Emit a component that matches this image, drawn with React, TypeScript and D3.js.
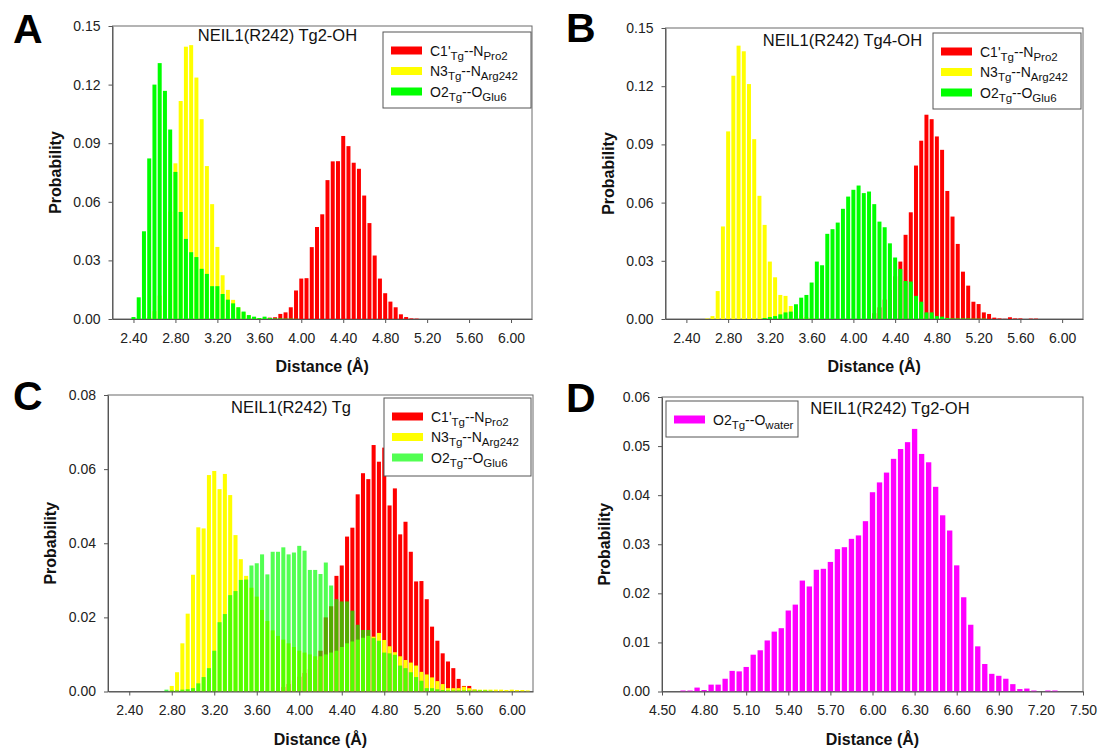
import React, { useRef, useEffect } from 'react';
import * as d3 from 'd3';

const FONT = "'Liberation Sans', Arial, Helvetica, sans-serif";
const BIN = 0.05;

// ---- panel A : NEIL1(R242) Tg2-OH  (probability per 0.05 A bin) ----
const aRedStart = 3.7;
const aRed = [0.0007, 0.0009, 0.0026, 0.0034, 0.006, 0.0146, 0.0207, 0.0209, 0.0368, 0.0471, 0.0536, 0.0711, 0.0807, 0.0808, 0.0937, 0.0885, 0.08, 0.0769, 0.0632, 0.0491, 0.0325, 0.0207, 0.0132, 0.0089, 0.006, 0.0024, 0.001, 0.0003, 0.0002];
const aYellowStart = 2.55;
const aYellow = [0.001, 0.004, 0.012, 0.03, 0.055, 0.0797, 0.1116, 0.1394, 0.1402, 0.1236, 0.1023, 0.0783, 0.0588, 0.0369, 0.0224, 0.0149, 0.0098, 0.006, 0.0035, 0.0018, 0.001, 0.0005];
const aGreenStart = 2.4;
const aGreen = [0.001, 0.0111, 0.0449, 0.0822, 0.12, 0.131, 0.1168, 0.097, 0.0753, 0.0548, 0.041, 0.0342, 0.0317, 0.0257, 0.0231, 0.0168, 0.0168, 0.0128, 0.0099, 0.008, 0.006, 0.0038, 0.002, 0.0012, 0.0005, 0.0012, 0.0005, 0.0003, 0.0003, 0.0002, 0.0002, 0.0001];

// ---- panel B : NEIL1(R242) Tg4-OH ----
const bRedStart = 4.2;
const bRed = [0.003, 0.006, 0.01, 0.015, 0.022, 0.0296, 0.0434, 0.055, 0.0791, 0.0919, 0.1053, 0.103, 0.0941, 0.0872, 0.066, 0.0528, 0.0387, 0.0244, 0.0172, 0.0089, 0.0077, 0.0034, 0.0026, 0.0007, 0.0003, 0.0001, 0.0009, 0.0003, 0.0003, 0, 0.0002, 0.0002];
const bYellowStart = 2.6;
const bYellow = [0.0003, 0.0015, 0.0144, 0.0477, 0.0967, 0.1254, 0.1409, 0.138, 0.1211, 0.0927, 0.0635, 0.0485, 0.0296, 0.0215, 0.0124, 0.0119, 0.0067, 0.004, 0.002, 0.001, 0.0005];
const bGreenStart = 3.15;
const bGreen = [0.0005, 0.001, 0.0015, 0.0024, 0.0034, 0.0038, 0.0076, 0.011, 0.0124, 0.0188, 0.0296, 0.0277, 0.0439, 0.0463, 0.0497, 0.0568, 0.0631, 0.0666, 0.0688, 0.0649, 0.0657, 0.0592, 0.0502, 0.0473, 0.039, 0.0317, 0.0258, 0.0196, 0.0193, 0.0119, 0.0089, 0.0034, 0.0034, 0.0015, 0.0012, 0.0005, 0.0003, 0.0003, 0.0003, 0.0003, 0.0002, 0.0002, 0.0002];

// ---- panel C : NEIL1(R242) Tg ----
const cRedStart = 3.8;
const cRed = [0.001, 0.0012, 0.002, 0.003, 0.004, 0.005, 0.006, 0.0085, 0.011, 0.02, 0.023, 0.0312, 0.034, 0.0418, 0.0442, 0.0532, 0.0589, 0.0573, 0.0665, 0.062, 0.0658, 0.0502, 0.0548, 0.0424, 0.0458, 0.0377, 0.0297, 0.0298, 0.0249, 0.0175, 0.0137, 0.0103, 0.0081, 0.0063, 0.0034, 0.0015, 0.0015, 0.0005, 0.0003, 0.0002];
const cYellowStart = 2.8;
const cYellow = [0.0015, 0.0052, 0.013, 0.021, 0.0315, 0.0443, 0.044, 0.0584, 0.0595, 0.0546, 0.0587, 0.053, 0.0422, 0.0357, 0.0312, 0.028, 0.0256, 0.022, 0.019, 0.0165, 0.015, 0.014, 0.013, 0.012, 0.011, 0.0105, 0.01, 0.0095, 0.0095, 0.01, 0.0105, 0.011, 0.012, 0.013, 0.0135, 0.014, 0.0145, 0.015, 0.0148, 0.0158, 0.0139, 0.0122, 0.0106, 0.0095, 0.0085, 0.0078, 0.007, 0.0053, 0.0046, 0.0038, 0.0028, 0.002, 0.0009, 0.0009, 0.0009, 0.0013, 0.0009, 0.0006, 0.0005, 0.0005, 0.0005, 0.0005, 0.0005, 0.0004, 0.0005, 0.0004, 0.0004, 0.0003];
const cGreenStart = 2.75;
const cGreen = [0.0005, 0.0003, 0.0003, 0.0005, 0.0006, 0.0009, 0.0022, 0.0039, 0.0063, 0.011, 0.0187, 0.0209, 0.026, 0.0271, 0.0301, 0.0302, 0.034, 0.0346, 0.037, 0.0316, 0.0377, 0.0377, 0.0389, 0.037, 0.0375, 0.0393, 0.038, 0.0328, 0.0328, 0.0317, 0.0348, 0.0286, 0.0249, 0.0243, 0.0243, 0.0218, 0.018, 0.0166, 0.0166, 0.0144, 0.0137, 0.0105, 0.0103, 0.0099, 0.007, 0.0063, 0.0052, 0.0039, 0.0029, 0.0009, 0.0009, 0.0006, 0.0004, 0.0003, 0.0003, 0.0003, 0.0003, 0.0003, 0.0003, 0.0003, 0.0003, 0.0002];

// ---- panel D : NEIL1(R242) Tg2-OH, O2--water ----
const dMagentaStart = 4.65;
const dMagenta = [0.0002, 0.0002, 0.0008, 0.0003, 0.0014, 0.0014, 0.0026, 0.0042, 0.0041, 0.005, 0.0075, 0.0084, 0.0104, 0.0122, 0.0129, 0.0165, 0.0177, 0.0226, 0.0214, 0.0248, 0.025, 0.0264, 0.029, 0.0294, 0.0311, 0.0318, 0.0347, 0.0406, 0.0426, 0.0446, 0.0474, 0.0494, 0.0508, 0.0535, 0.0484, 0.0467, 0.0417, 0.0359, 0.0328, 0.0257, 0.0192, 0.0136, 0.0092, 0.0056, 0.0036, 0.0032, 0.0026, 0.0015, 0.0005, 0.0006, 0.0002, 0, 0.0002, 0.0002];

// tick labels
const xTicksABC = [2.4, 2.8, 3.2, 3.6, 4.0, 4.4, 4.8, 5.2, 5.6, 6.0];
const xTicksD = [4.5, 4.8, 5.1, 5.4, 5.7, 6.0, 6.3, 6.6, 6.9, 7.2, 7.5];
const yTicksAB = [0, 0.03, 0.06, 0.09, 0.12, 0.15];
const yTicksC = [0, 0.02, 0.04, 0.06, 0.08];
const yTicksD = [0, 0.01, 0.02, 0.03, 0.04, 0.05, 0.06];

const RED = '#ff0000';
const YELLOW = '#ffff00';
const GREEN = '#00ff00';
const MAGENTA = '#ff00ff';

const lblC1 = [{ t: "C1'" }, { t: 'Tg', sub: true }, { t: '--N' }, { t: 'Pro2', sub: true }];
const lblN3 = [{ t: 'N3' }, { t: 'Tg', sub: true }, { t: '--N' }, { t: 'Arg242', sub: true }];
const lblO2 = [{ t: 'O2' }, { t: 'Tg', sub: true }, { t: '--O' }, { t: 'Glu6', sub: true }];
const lblW = [{ t: 'O2' }, { t: 'Tg', sub: true }, { t: '--O' }, { t: 'water', sub: true }];

const panels = [
  {
    letter: 'A', lx: 13, ly: 43, title: 'NEIL1(R242) Tg2-OH', tdx: 165, tdy: 15,
    box: { left: 112.5, right: 532, top: 26, bottom: 319 },
    xDomain: [2.2, 6.2], xTicks: xTicksABC, yDomain: [0, 0.15], yTicks: yTicksAB,
    series: [
      { start: aRedStart, values: aRed, color: RED, opacity: 1 },
      { start: aYellowStart, values: aYellow, color: YELLOW, opacity: 1 },
      { start: aGreenStart, values: aGreen, color: GREEN, opacity: 1 },
    ],
    legend: { x: 383, y: 32, w: 148, h: 76, items: [[RED, 1, lblC1], [YELLOW, 1, lblN3], [GREEN, 1, lblO2]] },
  },
  {
    letter: 'B', lx: 566, ly: 42, title: 'NEIL1(R242) Tg4-OH', tdx: 177, tdy: 18,
    box: { left: 665.5, right: 1083, top: 28, bottom: 319 },
    xDomain: [2.2, 6.2], xTicks: xTicksABC, yDomain: [0, 0.15], yTicks: yTicksAB,
    series: [
      { start: bRedStart, values: bRed, color: RED, opacity: 1 },
      { start: bYellowStart, values: bYellow, color: YELLOW, opacity: 1 },
      { start: bGreenStart, values: bGreen, color: GREEN, opacity: 1 },
    ],
    legend: { x: 933, y: 33, w: 148, h: 76, items: [[RED, 1, lblC1], [YELLOW, 1, lblN3], [GREEN, 1, lblO2]] },
  },
  {
    letter: 'C', lx: 13, ly: 410, title: 'NEIL1(R242) Tg', tdx: 183, tdy: 18,
    box: { left: 108, right: 533, top: 395, bottom: 691.5 },
    xDomain: [2.2, 6.2], xTicks: xTicksABC, yDomain: [0, 0.08], yTicks: yTicksC,
    series: [
      { start: cRedStart, values: cRed, color: RED, opacity: 1 },
      { start: cYellowStart, values: cYellow, color: YELLOW, opacity: 1 },
      { start: cGreenStart, values: cGreen, color: GREEN, opacity: 0.68 },
    ],
    legend: { x: 384, y: 398, w: 147, h: 78, items: [[RED, 1, lblC1], [YELLOW, 1, lblN3], [GREEN, 0.68, lblO2]] },
  },
  {
    letter: 'D', lx: 566, ly: 412, title: 'NEIL1(R242) Tg2-OH', tdx: 228, tdy: 17,
    box: { left: 662, right: 1083, top: 397, bottom: 691.5 },
    xDomain: [4.5, 7.5], xTicks: xTicksD, yDomain: [0, 0.06], yTicks: yTicksD,
    series: [
      { start: dMagentaStart, values: dMagenta, color: MAGENTA, opacity: 1 },
    ],
    legend: { x: 666, y: 401, w: 132, h: 36, items: [[MAGENTA, 1, lblW]] },
  },
];

function drawPanel(svg, p) {
  const { left, right, top, bottom } = p.box;
  const g = svg.append('g');
  const x = d3.scaleLinear().domain(p.xDomain).range([left, right]);
  const y = d3.scaleLinear().domain(p.yDomain).range([bottom, top]);
  const step = x(p.xDomain[0] + BIN) - x(p.xDomain[0]);
  const bw = step * 0.76;

  // frame
  g.append('rect')
    .attr('x', left).attr('y', top)
    .attr('width', right - left).attr('height', bottom - top)
    .attr('fill', 'none').attr('stroke', '#6a6a6a').attr('stroke-width', 1);

  // bars
  p.series.forEach(s => {
    const data = s.values.map((v, i) => ({ d: s.start + i * BIN, v }));
    g.append('g')
      .selectAll('rect')
      .data(data)
      .join('rect')
      .attr('x', e => x(e.d) - bw / 2)
      .attr('y', e => y(e.v))
      .attr('width', bw)
      .attr('height', e => bottom - y(e.v))
      .attr('fill', s.color)
      .attr('fill-opacity', s.opacity);
  });

  // axes
  const fmt = d3.format('.2f');
  const gx = g.append('g')
    .attr('transform', `translate(0,${bottom})`)
    .call(d3.axisBottom(x).tickValues(p.xTicks).tickFormat(fmt).tickSize(4).tickSizeOuter(0).tickPadding(10));
  const gy = g.append('g')
    .attr('transform', `translate(${left},0)`)
    .call(d3.axisLeft(y).tickValues(p.yTicks).tickFormat(fmt).tickSize(4).tickSizeOuter(0).tickPadding(8));
  [gx, gy].forEach(a => {
    a.selectAll('path, line').attr('stroke', '#555');
    a.selectAll('text').attr('font-size', 14).attr('font-family', FONT).attr('fill', '#222');
  });

  // axis titles
  g.append('text')
    .attr('x', (left + right) / 2).attr('y', bottom + 53)
    .attr('text-anchor', 'middle').attr('font-family', FONT)
    .attr('font-size', 16).attr('font-weight', 'bold').attr('fill', '#111')
    .text('Distance (\u00c5)');
  g.append('text')
    .attr('transform', `translate(${left - 52},${(top + bottom) / 2}) rotate(-90)`)
    .attr('text-anchor', 'middle').attr('font-family', FONT)
    .attr('font-size', 16).attr('font-weight', 'bold').attr('fill', '#111')
    .text('Probability');

  // title
  g.append('text')
    .attr('x', left + p.tdx).attr('y', top + p.tdy)
    .attr('text-anchor', 'middle').attr('font-family', FONT)
    .attr('font-size', 16.5).attr('fill', '#111')
    .text(p.title);

  // legend
  const L = p.legend;
  const lg = g.append('g');
  lg.append('rect')
    .attr('x', L.x).attr('y', L.y).attr('width', L.w).attr('height', L.h)
    .attr('fill', '#fff').attr('stroke', '#555').attr('stroke-width', 1);
  L.items.forEach(([col, op, parts], i) => {
    const cy = L.y + 18.5 + i * 20.5;
    lg.append('rect')
      .attr('x', L.x + 8).attr('y', cy - 4).attr('width', 31).attr('height', 8)
      .attr('fill', col).attr('fill-opacity', op);
    const t = lg.append('text')
      .attr('x', L.x + 47).attr('y', cy + 5)
      .attr('font-family', FONT).attr('font-size', 14).attr('fill', '#111');
    let low = false;
    parts.forEach(pt => {
      const ts = t.append('tspan').text(pt.t);
      if (pt.sub) {
        ts.attr('font-size', 11.5).attr('dy', low ? 0 : 4);
        low = true;
      } else {
        if (low) ts.attr('dy', -4);
        low = false;
      }
    });
  });

  // panel letter
  g.append('text')
    .attr('x', p.lx).attr('y', p.ly)
    .attr('font-family', FONT).attr('font-size', 41).attr('font-weight', 'bold').attr('fill', '#000')
    .text(p.letter);
}

export default function App() {
  const svgRef = useRef(null);

  useEffect(() => {
    const svg = d3.select(svgRef.current);
    svg.selectAll('*').remove();
    panels.forEach(p => drawPanel(svg, p));
  }, []);

  return (
    <svg
      ref={svgRef}
      width={1102}
      height={751}
      style={{ position: 'absolute', left: 0, top: 0, background: '#fff' }}
    />
  );
}
